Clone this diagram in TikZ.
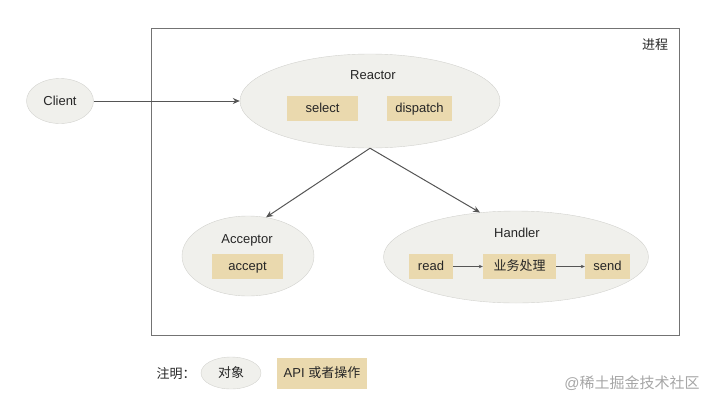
\documentclass[tikz,border=0pt]{standalone}
\usepackage{fontspec}
\setmainfont{Liberation Sans}
\newfontfamily\cjk{Noto Sans CJK SC}
\usetikzlibrary{shapes.geometric,arrows.meta}
\definecolor{objfill}{HTML}{F0F0EC}
\definecolor{objline}{HTML}{D2D2CE}
\definecolor{apifill}{HTML}{EAD9AE}
\definecolor{arrowgray}{HTML}{555555}
\begin{document}
\begin{tikzpicture}[x=1pt, y=-1pt,
  obj/.style={draw=objline, fill=objfill, ellipse, inner sep=0pt},
  api/.style={fill=apifill, inner sep=0pt, minimum height=25pt, text height=9.5pt, text depth=2.5pt, font=\fontsize{13}{15}\selectfont, text=black!85},
  lbl/.style={font=\fontsize{13}{15}\selectfont, text=black!85},
  arrow/.style={-{Stealth[length=7pt,width=6pt]}, draw=arrowgray, line width=1pt},
  thin arrow/.style={-{Stealth[length=4pt,width=3.5pt]}, draw=arrowgray, line width=0.6pt}
]
  \useasboundingbox (0,0) rectangle (714,407);

  % process frame
  \node[draw=black!55, line width=0.6pt, minimum width=528pt, minimum height=307pt, inner sep=0pt] (proc) at (415,181.5) {};
  \node[lbl] (proctitle) at (655,45) {\cjk 进程};

  % objects
  \node[obj, minimum width=67pt, minimum height=45pt] (client) at (60,101) {};
  \node[lbl] (clienttxt) at (60,101) {Client};

  \node[obj, minimum width=260pt, minimum height=94pt] (reactor) at (370,101) {};
  \node[lbl] (reactortxt) at (373,75) {Reactor};
  \node[api, minimum width=71pt] (select) at (322.5,108.5) {select};
  \node[api, minimum width=65pt] (dispatch) at (419.5,108.5) {dispatch};

  \node[obj, minimum width=132pt, minimum height=80pt] (acceptor) at (248,256) {};
  \node[lbl] (acceptortxt) at (247,240) {Acceptor};
  \node[api, minimum width=71pt] (accept) at (247.5,266.5) {accept};

  \node[obj, minimum width=265pt, minimum height=92pt] (handler) at (516,257) {};
  \node[lbl] (handlertxt) at (517,233) {Handler};
  \node[api, minimum width=44pt] (read) at (431,266.5) {read};
  \node[api, minimum width=73pt] (biz) at (519.5,266.5) {\cjk 业务处理};
  \node[api, minimum width=45pt] (send) at (607.5,266.5) {send};

  % connectors
  \draw[arrow] (client) -- (reactor);
  \draw[arrow] (reactor.south) -- (acceptor.65);
  \draw[arrow] (reactor.south) -- (handler.129);
  \draw[thin arrow] (read) -- (biz);
  \draw[thin arrow] (biz) -- (send);

  % legend
  \node[lbl] (note) at (176,374) {\cjk 注明：};
  \node[obj, minimum width=60pt, minimum height=32pt] (legobj) at (231,373) {};
  \node[lbl] (legobjtxt) at (231,373) {\cjk 对象};
  \node[api, minimum width=90pt, minimum height=31pt] (legapi) at (322,373.5) {API {\cjk 或者操作}};

  \node[lbl, text=black!35, font=\fontsize{15}{18}\selectfont] (mark) at (632,383) {@{\cjk 稀土掘金技术社区}};
\end{tikzpicture}
\end{document}
